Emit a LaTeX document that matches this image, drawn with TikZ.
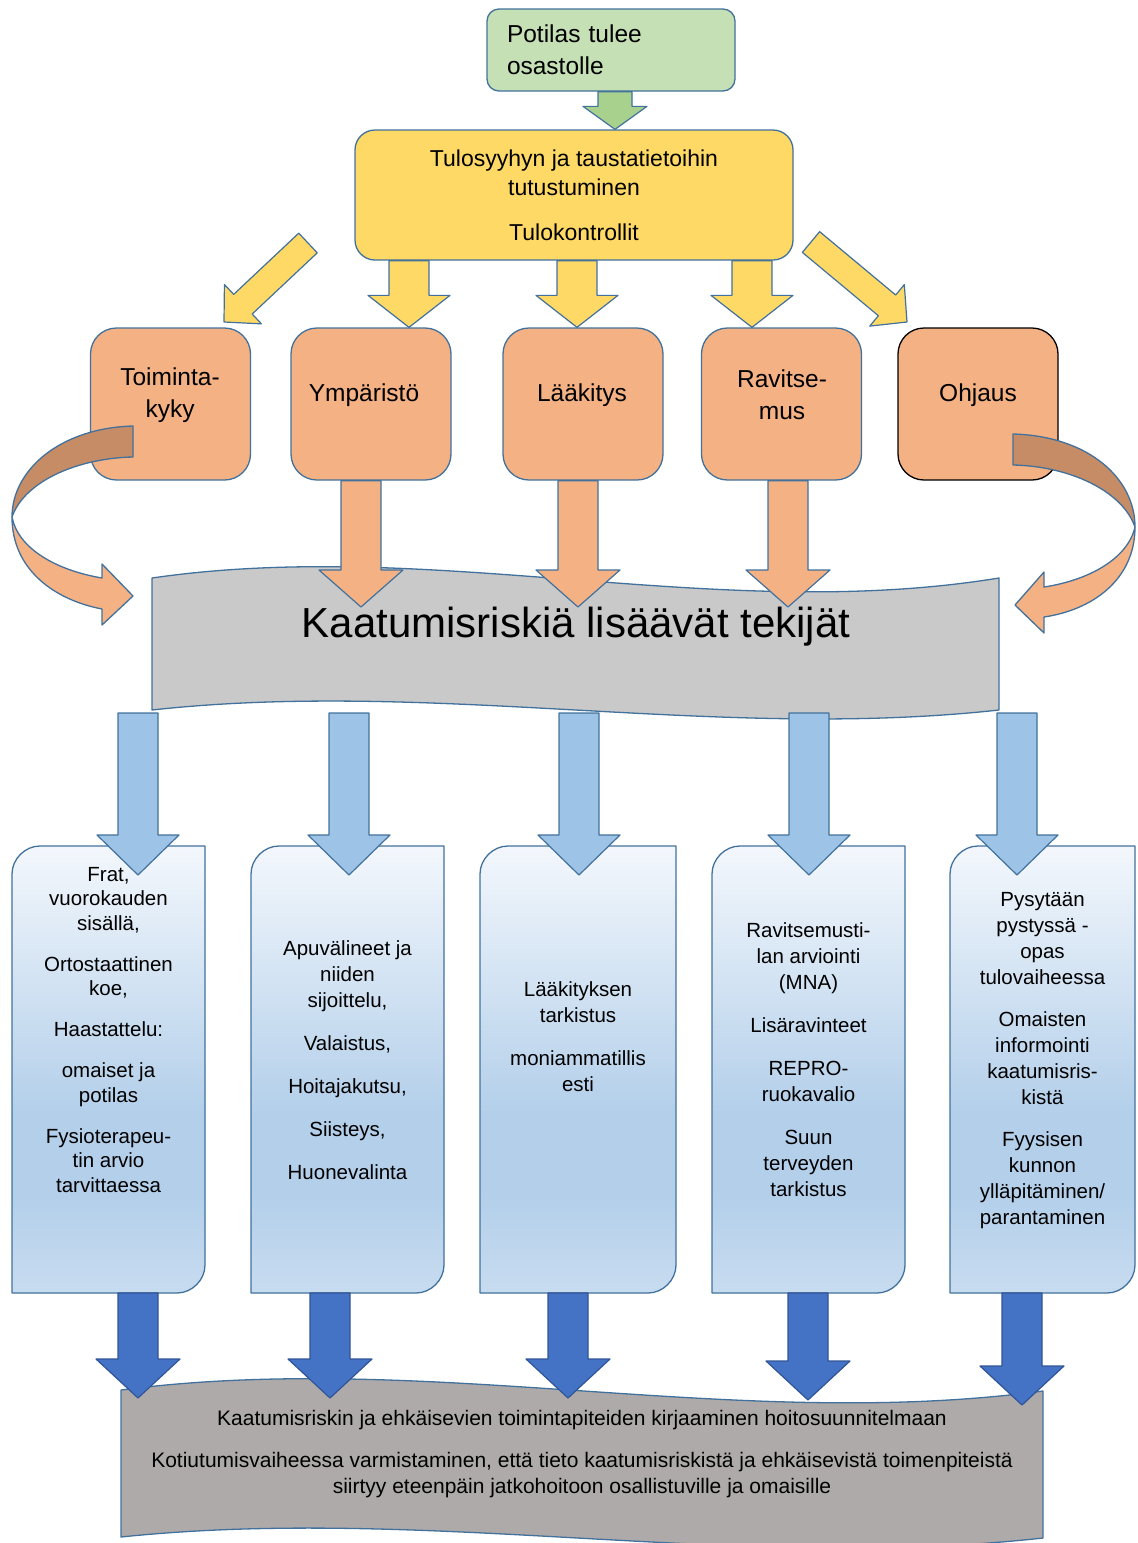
\documentclass[tikz,border=0pt]{standalone}
\usepackage{fontspec}
\setmainfont{Liberation Sans}
\usetikzlibrary{calc,positioning}

\definecolor{edge}{HTML}{41719C}
\definecolor{startgreen}{HTML}{C5E0B4}
\definecolor{arrowgreen}{HTML}{A9D18E}
\definecolor{introyellow}{HTML}{FFD966}
\definecolor{riskorange}{HTML}{F4B183}
\definecolor{shadeorange}{HTML}{C58C66}
\definecolor{bandgray}{HTML}{C9C9C9}
\definecolor{plangray}{HTML}{AEAAAA}
\definecolor{lightblue}{HTML}{9DC3E6}
\definecolor{darkblue}{HTML}{4472C4}
\definecolor{darkedge}{HTML}{2F5597}
\definecolor{boxtop}{HTML}{F3F7FC}
\definecolor{boxmid}{HTML}{B3CFEA}
\definecolor{boxbot}{HTML}{C8DCF0}

\pgfdeclareverticalshading{colshade}{100bp}{color(0bp)=(boxbot); color(25bp)=(boxbot);
  color(36bp)=(boxmid); color(45bp)=(boxmid); color(75bp)=(boxtop); color(100bp)=(boxtop)}

\newcommand{\setfs}[2]{\fontsize{#1}{#2}\selectfont}

%% block arrow: style, from, to, half shaft, half head, head length
\newcommand{\blockarrow}[6]{%
  \path (#2) coordinate (ba-from);
  \path (#3) coordinate (ba-to);
  \path ($(ba-to)!#6!(ba-from)$) coordinate (ba-head);
  \draw[#1] ($(ba-from)!#4!90:(ba-to)$) -- ($(ba-head)!#4!90:(ba-to)$)
     -- ($(ba-head)!#5!90:(ba-to)$) -- (ba-to)
     -- ($(ba-head)!#5!-90:(ba-to)$) -- ($(ba-head)!#4!-90:(ba-to)$)
     -- ($(ba-from)!#4!-90:(ba-to)$) -- cycle;
}

\begin{document}
\begin{tikzpicture}[x=1pt, y=-1pt, line join=round,
    startbox/.style={draw=edge, fill=startgreen, rounded corners=12pt, line width=1.3pt,
      minimum width=248pt, minimum height=82pt, text width=208pt, inner xsep=20pt,
      align=left, font=\setfs{24.5}{32}},
    introbox/.style={draw=edge, fill=introyellow, rounded corners=20pt, line width=1.3pt,
      minimum width=438pt, minimum height=130pt, align=center, font=\setfs{23}{29}},
    riskbox/.style={draw=edge, fill=riskorange, rounded corners=26pt, line width=1.3pt,
      minimum width=160pt, minimum height=152pt},
    risktext/.style={align=center, font=\setfs{24.5}{32}},
    coltext/.style={align=center, font=\setfs{20.5}{26}},
    greenarrow/.style={draw=edge, fill=arrowgreen, line width=1.2pt},
    yellowarrow/.style={draw=edge, fill=introyellow, line width=1.2pt},
    orangearrow/.style={draw=edge, fill=riskorange, line width=1.2pt},
    bluearrow/.style={draw=edge, fill=lightblue, line width=1.2pt},
    deeparrow/.style={draw=darkedge, fill=darkblue, line width=1.2pt},
    wave/.style={draw=edge, line width=1.3pt}]

  \useasboundingbox (0,0) rectangle (1138,1543);

  %% intake
  \node[startbox] (start) at (611,50) {Potilas tulee\\osastolle};
  \node[introbox] (intro) at (574,195)
       {Tulosyyhyn ja taustatietoihin\\tutustuminen\\[16pt]Tulokontrollit};
  \blockarrow{greenarrow}{615,0 |- start.south}{615,0 |- intro.north}{17pt}{32pt}{23pt}

  %% risk areas
  \foreach \nm/\x/\tx/\ec/\txt in {tk/170.5/170/edge/{Toiminta-\\kyky},
                                   ymp/371/364/edge/Ympäristö,
                                   laak/583/582/edge/Lääkitys,
                                   rav/781.5/782/edge/{Ravitse-\\mus},
                                   ohj/978/978/black/Ohjaus} {
    \node[riskbox, draw=\ec] (\nm) at (\x,404) {};
    \node[risktext] (\nm-t) at (\tx,395) {\txt};
  }

  \coordinate (ydl-tail) at (308,243);
  \coordinate (ydr-tail) at (811,242);
  \blockarrow{yellowarrow}{ydl-tail}{224,322}{13.5pt}{27pt}{26pt}
  \blockarrow{yellowarrow}{ydr-tail}{907,322}{13.5pt}{27pt}{26pt}
  \foreach \x/\nm in {409/ymp, 577/laak, 752/rav} {
    \blockarrow{yellowarrow}{\x,0 |- intro.south}{\x,0 |- \nm.north}{20pt}{41pt}{32pt}
  }

  %% risk band
  \draw[wave, fill=bandgray] (152,578) .. controls (434,537) and (717,624) .. (999,578)
     -- (999,710) .. controls (717,741) and (434,679) .. (152,710) -- cycle;
  \node[font=\setfs{42}{50}, anchor=base] (risktitle) at (576,637)
       {Kaatumisriskiä lisäävät tekijät};

  \coordinate (risk-in) at (0,607);
  \foreach \x/\nm in {361/ymp, 578/laak, 788/rav} {
    \blockarrow{orangearrow}{\x,0 |- \nm.south}{\x,0 |- risk-in}{20pt}{42pt}{37pt}
  }

  %% curved arrows round the band
  \draw[wave, fill=shadeorange] (133,426) .. controls (60,428) and (12,470) .. (12,517)
     .. controls (25,480) and (80,458) .. (133,457) -- cycle;
  \draw[wave, fill=riskorange] (12,517) .. controls (12,570) and (55,600) .. (102,609)
     -- (102,625) -- (133,596) -- (102,564) -- (102,578)
     .. controls (55,570) and (18,548) .. (12,517) -- cycle;
  \draw[wave, fill=shadeorange] (1013,434) .. controls (1088,436) and (1135,478) .. (1135,527)
     .. controls (1122,490) and (1068,466) .. (1013,465) -- cycle;
  \draw[wave, fill=riskorange] (1135,527) .. controls (1135,580) and (1092,610) .. (1044,617)
     -- (1044,633) -- (1015,605) -- (1044,572) -- (1044,587)
     .. controls (1090,580) and (1128,558) .. (1135,527) -- cycle;

  %% measures
  \foreach \xl/\xr in {12/205, 251/444, 480/676, 712/905, 950/1135} {
    \shadedraw[shading=colshade, draw=edge, line width=1.3pt]
      (\xl,1293) -- (\xl,874) .. controls (\xl,859) and (\xl+13,846) .. (\xl+28,846)
      -- (\xr,846) -- (\xr,1265) .. controls (\xr,1280) and (\xr-13,1293) .. (\xr-28,1293)
      -- cycle;
  }
  \node[coltext, font=\setfs{20.5}{24.5}] (t1) at (108.5,1030)
       {Frat,\\vuorokauden\\sisällä,\\[16.5pt]Ortostaattinen\\koe,\\[16.5pt]Haastattelu:\\[16.5pt]%
        omaiset ja\\potilas\\[16.5pt]Fysioterapeu-\\tin arvio\\tarvittaessa};
  \node[coltext] (t2) at (347.5,1060)
       {Apuvälineet ja\\niiden\\sijoittelu,\\[17pt]Valaistus,\\[17pt]Hoitajakutsu,\\[17pt]%
        Siisteys,\\[17pt]Huonevalinta};
  \node[coltext] (t3) at (578,1037)
       {Lääkityksen\\tarkistus\\[17pt]moniammatillis\\esti};
  \node[coltext] (t4) at (808.5,1059.5)
       {Ravitsemusti-\\lan arviointi\\(MNA)\\[17pt]Lisäravinteet\\[17pt]REPRO-\\ruokavalio\\[17pt]%
        Suun\\terveyden\\tarkistus};
  \node[coltext] (t5) at (1042.5,1060.5)
       {Pysytään\\pystyssä -\\opas\\tulovaiheessa\\[16pt]Omaisten\\informointi\\kaatumisris-\\kistä\\[16pt]%
        Fyysisen\\kunnon\\ylläpitäminen/\\parantaminen};

  \coordinate (risk-out) at (0,713);
  \coordinate (cols-in) at (0,875);
  \foreach \x in {138, 349, 579, 809, 1017} {
    \blockarrow{bluearrow}{\x,0 |- risk-out}{\x,0 |- cols-in}{20pt}{41pt}{40pt}
  }

  %% care plan band
  \draw[wave, fill=plangray] (121,1390) .. controls (428,1350) and (736,1432) .. (1043,1391)
     -- (1043,1538) .. controls (736,1572) and (428,1505) .. (121,1537) -- cycle;
  \node[align=center, font=\setfs{21}{26}] (plantext) at (582,1454)
       {Kaatumisriskin ja ehkäisevien toimintapiteiden kirjaaminen hoitosuunnitelmaan\\[16pt]%
        Kotiutumisvaiheessa varmistaminen, että tieto kaatumisriskistä ja ehkäisevistä toimenpiteistä\\
        siirtyy eteenpäin jatkohoitoon osallistuville ja omaisille};

  \coordinate (cols-out) at (0,1293);
  \coordinate (plan-in) at (0,1398);
  \foreach \x/\dy in {138/0, 330/0, 568/0, 808/2, 1022/7} {
    \blockarrow{deeparrow}{\x,0 |- cols-out}{$(\x,0 |- plan-in)+(0,\dy)$}{20pt}{42pt}{39pt}
  }

\end{tikzpicture}
\end{document}
